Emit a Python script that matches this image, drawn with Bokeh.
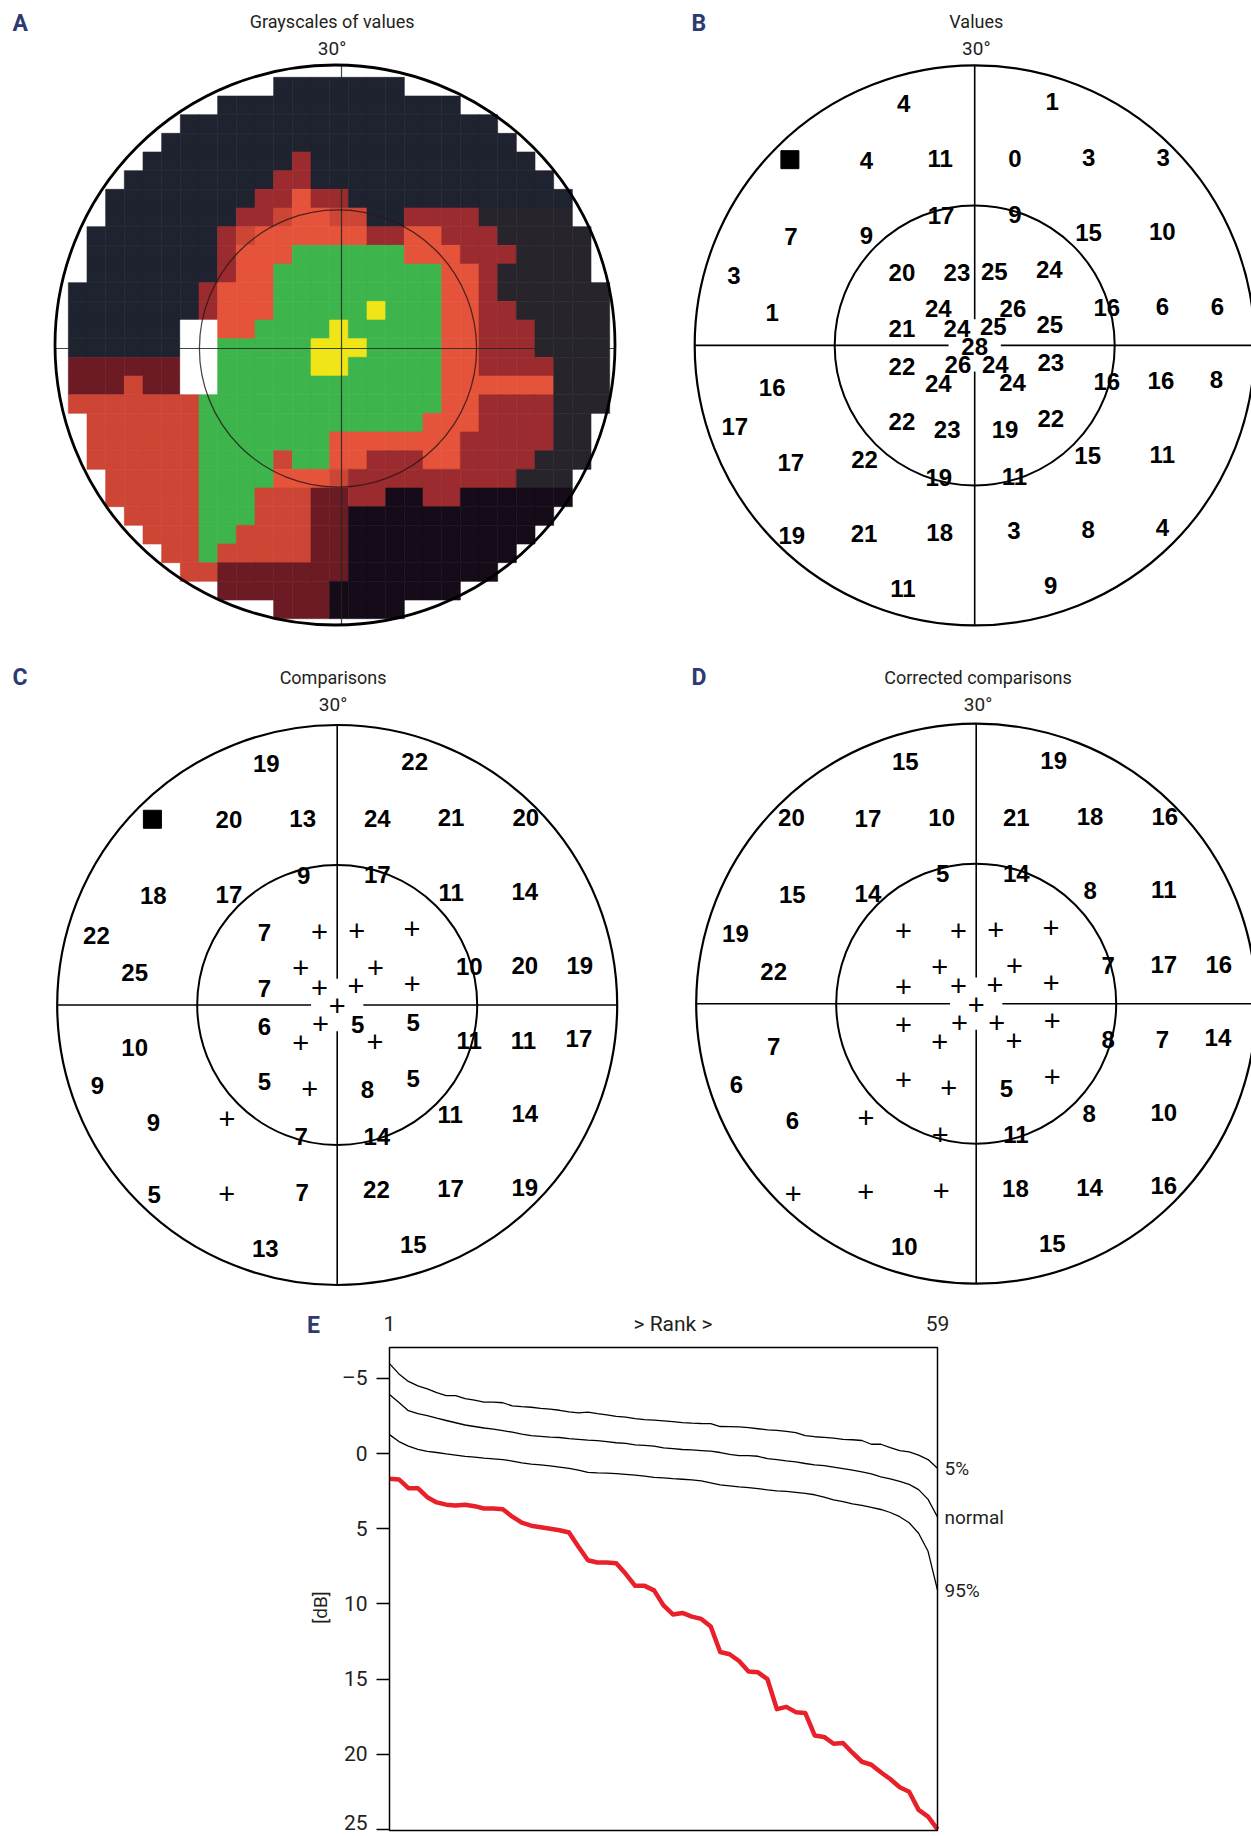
import math
from bokeh.plotting import figure
from bokeh.layouts import column, row
from bokeh.models import ColumnDataSource, Label, Range1d, FixedTicker, BoxAnnotation
from bokeh.core.properties import value
from bokeh.embed import file_html
from bokeh.resources import INLINE

# ---------------------------------------------------------------- data
# test locations of the 30-degree program (degrees), shared by B, C, D
loc_x = [-7.6, 8.3, -19.8, -11.6, -3.7, 4.3, 12.2, 20.2, -3.6, 4.3,
         -19.7, -11.6, 12.2, 20.1, -25.8, -7.8, -1.9, 2.1, 8.0, -21.7,
         -3.9, 4.1, 14.15, 20.1, 26.0, -7.8, -1.9, 2.0, 8.05, 0.0,
         -7.8, -1.8, 2.2, 8.15, -21.7, -3.9, 4.05, 14.15, 19.95, 25.9,
         -25.7, -7.8, -2.95, 3.25, 8.15, -19.7, -11.8, 12.1, 20.1, -3.85,
         4.25, -19.6, -11.85, -3.75, 4.2, 12.15, 20.1, -7.7, 8.15]
loc_y = [25.9, 26.1, 19.9, 19.85, 20.0, 20.0, 20.1, 20.1, 13.9, 14.0,
         11.7, 11.8, 12.1, 12.2, 7.5, 7.8, 7.8, 7.9, 8.15, 3.5,
         3.95, 4.0, 4.1, 4.2, 4.2, 1.8, 1.85, 2.05, 2.25, -0.1,
         -2.3, -2.05, -2.05, -1.85, -4.55, -4.1, -3.95, -3.85, -3.8, -3.6,
         -8.65, -8.15, -9.0, -9.05, -7.85, -12.55, -12.25, -11.75, -11.65, -14.1,
         -14.05, -20.35, -20.2, -20.05, -19.8, -19.7, -19.5, -26.05, -25.7]

values_b = ["4", "1", "■", "4", "11", "0", "3", "3", "17", "9",
            "7", "9", "15", "10", "3", "20", "23", "25", "24", "1",
            "24", "26", "16", "6", "6", "21", "24", "25", "25", "28",
            "22", "26", "24", "23", "16", "24", "24", "16", "16", "8",
            "17", "22", "23", "19", "22", "17", "22", "15", "11", "19",
            "11", "19", "21", "18", "3", "8", "4", "11", "9"]
comparisons_c = ["19", "22", "■", "20", "13", "24", "21", "20", "9", "17",
                 "18", "17", "11", "14", "22", "7", "+", "+", "+", "25",
                 "+", "+", "10", "20", "19", "7", "+", "+", "+", "+",
                 "6", "+", "5", "5", "10", "+", "+", "11", "11", "17",
                 "9", "5", "+", "8", "5", "9", "+", "11", "14", "7",
                 "14", "5", "+", "7", "22", "17", "19", "13", "15"]
corrected_d = ["15", "19", "20", "17", "10", "21", "18", "16", "5", "14",
               "15", "14", "8", "11", "19", "+", "+", "+", "+", "22",
               "+", "+", "7", "17", "16", "+", "+", "+", "+", "+",
               "+", "+", "+", "+", "7", "+", "+", "8", "7", "14",
               "6", "+", "+", "5", "+", "6", "+", "8", "10", "+",
               "11", "+", "+", "+", "18", "14", "16", "10", "15"]

# panel A: colour-class map, 2-degree cells, rows y = 28 .. -28, columns x = -28 .. 28
grey_rows = [
    "...........KKKKKKK...........",
    "........KKKKKKKKKKKKK........",
    "......KKKKKKKKKKKKKKKKK......",
    ".....KKKKKKKKKKKKKKKKKKK.....",
    "....KKKKKKKKDKKKKKKKKKKKK....",
    "...KKKKKKKKDDKKKKKKKKKKKKK...",
    "..KKKKKKKKDDODDKKKKKKKKKKKK..",
    "..KKKKKKKDDROORRKKDDDDQQQQQ..",
    ".KKKKKKKDROOOOOODDOODDDQQQQQ.",
    ".KKKKKKKDOOOGGGGGGOOODDDQQQQ.",
    ".KKKKKKKDOOGGGGGGGGGOODQQQQQ.",
    "KKKKKKKDOOOGGGGGGGGGOODQQQQQQ",
    "KKKKKKKDOOOGGGGGYGGGOODDQQQQQ",
    "KKKKKKWWOOGGGGYGGGGGOODDDQQQQ",
    "KKKKKKWWGGGGGYYYGGGGOODDDQQQQ",
    "MMMMMMWWGGGGGYYGGGGGOODDDDQQQ",
    "MMMRMMWWGGGGGGGGGGGGOOOOOOQQQ",
    "RRRRRRRGGGGGGGGGGGGGOODDDDQQQ",
    ".RRRRRRGGGGGGGGGGGGOOODDDDQQ.",
    ".RRRRRRGGGGGGGOOOOOOODDDDDQQ.",
    ".RRRRRRGGGGRGGOODDDOODDDDQQQ.",
    "..RRRRRGGGGOOORDDDDDDDDDQQQ..",
    "..RRRRRGGGRRRMMDDPPDDPPPPPP..",
    "...RRRRGGGRRRMMPPPPPPPPPPP...",
    "....RRRGGRRRRMMPPPPPPPPPP....",
    ".....RRGRRRRRMMPPPPPPPPP.....",
    "......RRMMMMMMMPPPPPPPP......",
    "........MMMMMMPPPPPPP........",
    "...........MMMPPPP...........",
]
grey_colors = {"K": "#1f2330", "Q": "#27252b", "P": "#160b18", "M": "#6c1b24",
               "D": "#9b2b2e", "R": "#cd4535", "O": "#e6533b", "G": "#3db44c",
               "Y": "#f0e516", "W": "#ffffff"}

# panel E: cumulative defect curve, rank 1..59, dB
rank = list(range(1, 60))
patient = [1.67, 1.72, 2.3, 2.3, 2.9, 3.25, 3.4, 3.45, 3.4, 3.5,
           3.65, 3.65, 3.7, 4.2, 4.6, 4.8, 4.9, 5.0, 5.1, 5.25,
           6.2, 7.1, 7.25, 7.25, 7.3, 8.0, 8.8, 8.8, 9.1, 10.1,
           10.7, 10.6, 10.85, 11.0, 11.5, 13.2, 13.35, 13.8, 14.5, 14.55,
           15.0, 17.0, 16.85, 17.2, 17.25, 18.75, 18.85, 19.3, 19.25, 19.9,
           20.5, 20.7, 21.2, 21.65, 22.2, 22.5, 23.7, 24.15, 25.0]
pct5 = [-5.98, -5.3, -4.8, -4.5, -4.3, -4.05, -3.86, -3.86, -3.65, -3.55,
        -3.42, -3.42, -3.38, -3.17, -3.12, -3.08, -3.0, -2.95, -2.88, -2.78,
        -2.7, -2.75, -2.65, -2.58, -2.48, -2.42, -2.32, -2.26, -2.22, -2.17,
        -2.12, -2.06, -2.02, -2.0, -1.99, -1.8, -1.79, -1.77, -1.72, -1.65,
        -1.58, -1.54, -1.48, -1.4, -1.2, -1.12, -1.08, -1.03, -0.95, -0.92,
        -0.87, -0.62, -0.62, -0.4, -0.2, -0.11, 0.1, 0.4, 0.98]
normal = [-3.93, -3.4, -2.85, -2.65, -2.52, -2.35, -2.2, -2.05, -1.9, -1.8,
          -1.7, -1.62, -1.52, -1.42, -1.3, -1.2, -1.15, -1.1, -1.07, -1.0,
          -0.95, -0.9, -0.86, -0.8, -0.72, -0.68, -0.58, -0.55, -0.5, -0.38,
          -0.33, -0.27, -0.24, -0.2, -0.16, -0.07, 0.05, 0.14, 0.14, 0.18,
          0.34, 0.4, 0.48, 0.55, 0.66, 0.75, 0.8, 0.9, 1.0, 1.1,
          1.22, 1.35, 1.55, 1.68, 1.85, 2.05, 2.4, 3.05, 4.22]
pct95 = [-1.26, -0.8, -0.5, -0.28, -0.15, -0.07, 0.02, 0.1, 0.18, 0.24,
         0.3, 0.35, 0.4, 0.5, 0.62, 0.7, 0.75, 0.82, 0.9, 0.98,
         1.1, 1.25, 1.28, 1.3, 1.33, 1.38, 1.44, 1.5, 1.58, 1.62,
         1.67, 1.71, 1.75, 1.82, 1.95, 2.08, 2.15, 2.22, 2.26, 2.33,
         2.42, 2.48, 2.52, 2.58, 2.65, 2.74, 2.9, 3.08, 3.2, 3.35,
         3.45, 3.58, 3.72, 3.92, 4.2, 4.6, 5.3, 6.5, 9.08]
curve_names = ["5%", "normal", "95%"]
y_ticks = [-5, 0, 5, 10, 15, 20, 25]
rank_labels = {1: "1", 31: "> Rank >", 59: "59"}

# ---------------------------------------------------------------- styling
CONDENSED = "Roboto"
NUMFONT = "Liberation Sans"
NAVY = "#2d3a72"
INK = "#231f20"
S = 280.0 / 30.0          # pixels per degree


def circle_fig(left, top, w, h, cx, cy):
    fig = figure(width=w, height=h,
                 x_range=Range1d((left - cx) / S, (left + w - cx) / S),
                 y_range=Range1d((cy - top - h) / S, (cy - top) / S),
                 output_backend="svg", toolbar_location=None,
                 x_axis_location=None, y_axis_location=None, min_border=0)
    fig.grid.visible = False
    fig.outline_line_color = None
    fig.background_fill_color = "white"
    fig.border_fill_color = "white"

    def to_deg(px, py):
        return (px - cx) / S, (cy - py) / S
    return fig, to_deg


def heading(fig, to_deg, letter, letter_px, letter_py, title, tx, ty, sub_py):
    lx, ly = to_deg(letter_px, letter_py)
    fig.add_layout(Label(x=lx, y=ly, text=letter, text_font=CONDENSED, text_font_style="bold",
                         text_font_size="23px", text_color=NAVY, text_align="left",
                         text_baseline="alphabetic"))
    x, y = to_deg(tx, ty)
    fig.add_layout(Label(x=x, y=y, text=title, text_font=CONDENSED, text_font_size="18px",
                         text_color=INK, text_align="center", text_baseline="alphabetic"))
    x, y = to_deg(tx, sub_py)
    fig.add_layout(Label(x=x, y=y, text="30°", text_font=CONDENSED, text_font_size="19px",
                         text_color=INK, text_align="center", text_baseline="alphabetic"))


def field_frame(fig, outer_lw=2.2, inner_lw=2.0, gap=2.8):
    fig.circle(x=[0], y=[0], radius=30, fill_color=None, line_color="black", line_width=outer_lw)
    fig.circle(x=[0], y=[0], radius=15, fill_color=None, line_color="black", line_width=inner_lw)
    fig.segment(x0=[-30, gap, 0, 0], y0=[0, 0, -30, gap],
                x1=[-gap, 30, 0, 0], y1=[0, 0, -gap, 30],
                line_color="black", line_width=1.6)


def field_values(fig, labels):
    num = dict(x=[], y=[], t=[])
    plus = dict(x=[], y=[], t=[])
    sq = dict(x=[], y=[])
    for x, y, t in zip(loc_x, loc_y, labels):
        if t == "■":
            sq["x"].append(x); sq["y"].append(y)
        elif t == "+":
            plus["x"].append(x); plus["y"].append(y); plus["t"].append(t)
        else:
            num["x"].append(x); num["y"].append(y); num["t"].append(t)
    fig.text(x="x", y="y", text="t", source=ColumnDataSource(num), text_align="center",
             text_baseline="middle", text_font=value(NUMFONT), text_font_style="bold",
             text_font_size="24px", text_color="black")
    if plus["x"]:
        fig.text(x="x", y="y", text="t", source=ColumnDataSource(plus), text_align="center",
                 text_baseline="middle", text_font=value(NUMFONT), text_font_style="normal",
                 text_font_size="29px", text_color="black")
    if sq["x"]:
        fig.scatter(x="x", y="y", source=ColumnDataSource(sq), marker="square", size=18,
                    fill_color="black", line_color="black")


# ---------------------------------------------------------------- panel A
pA, degA = circle_fig(0, 0, 655, 665, 334.5, 344.5)
mx, my = degA(338.5, 347.5)
cells = dict(x=[], y=[], c=[])
for j, line in enumerate(grey_rows):
    for i, ch in enumerate(line):
        if ch in grey_colors:
            cells["x"].append(-28 + 2 * i + mx)
            cells["y"].append(28 - 2 * j + my)
            cells["c"].append(grey_colors[ch])
pA.rect(x="x", y="y", width=2, height=2, source=ColumnDataSource(cells),
        fill_color="c", line_color="c", line_width=0.6)
hx, hy = degA(341, 348)
pA.segment(x0=[-30, hx], y0=[hy, -30], x1=[30, hx], y1=[hy, 30],
           line_color="#1c2a1f", line_width=1.2, line_alpha=0.85)
ix, iy = degA(337.5, 348)
pA.circle(x=[ix], y=[iy], radius=14.85, fill_color=None, line_color="#2a1616",
          line_width=1.3, line_alpha=0.8)
pA.circle(x=[0], y=[0], radius=30, fill_color=None, line_color="black", line_width=2.8)
heading(pA, degA, "A", 12, 23, "Grayscales of values", 331.6, 21, 48)

# ---------------------------------------------------------------- panel B
pB, degB = circle_fig(655, 0, 596, 665, 974.2, 344.9)
field_frame(pB)
field_values(pB, values_b)
heading(pB, degB, "B", 691, 23, "Values", 975.8, 21, 48)

# ---------------------------------------------------------------- panel C
pC, degC = circle_fig(0, 665, 655, 645, 336.7, 1004.5)
field_frame(pC)
field_values(pC, comparisons_c)
heading(pC, degC, "C", 12, 677, "Comparisons", 332.6, 677, 704)

# ---------------------------------------------------------------- panel D
pD, degD = circle_fig(655, 665, 596, 645, 975.7, 1003.2)
field_frame(pD)
field_values(pD, corrected_d)
heading(pD, degD, "D", 691, 677, "Corrected comparisons", 977.5, 677, 704)

# ---------------------------------------------------------------- panel E
E_TOP, E_H, E_W = 1310, 524, 1251
PXR = 548.0 / 58.0        # pixels per rank
PXD = 451.0 / 30.0        # pixels per dB


def r_at(px):
    return 1 + (px - 389.0) / PXR


def d_at(py):
    return -5 + (py - 1377.9) / PXD


pE = figure(width=E_W, height=E_H,
            x_range=Range1d(r_at(0), r_at(E_W)),
            y_range=Range1d(d_at(E_TOP + E_H), d_at(E_TOP)),
            output_backend="svg", toolbar_location=None, x_axis_location="above",
            min_border=0)
pE.grid.visible = False
pE.outline_line_color = None
pE.background_fill_color = "white"
pE.border_fill_color = "white"
pE.add_layout(BoxAnnotation(left=rank[0], right=rank[-1], top=d_at(1347), bottom=d_at(1830),
                            fill_color=None, fill_alpha=0, line_color="black", line_width=1.5,
                            line_alpha=1.0))

xa = pE.xaxis[0]
xa.fixed_location = d_at(1347)
xa.ticker = FixedTicker(ticks=list(rank_labels.keys()))
xa.major_label_overrides = rank_labels
xa.major_tick_out = 0
xa.major_tick_in = 0
xa.minor_tick_out = 0
xa.minor_tick_in = 0
xa.axis_line_color = None
xa.major_label_standoff = 12
xa.major_label_text_font = CONDENSED
xa.major_label_text_font_size = "21px"
xa.major_label_text_color = INK

ya = pE.yaxis[0]
ya.fixed_location = rank[0]
ya.ticker = FixedTicker(ticks=y_ticks)
ya.major_label_overrides = {-5: "–5"}
ya.major_tick_out = 13
ya.major_tick_in = 0
ya.minor_tick_out = 0
ya.minor_tick_in = 0
ya.major_tick_line_width = 1.5
ya.axis_line_color = None
ya.major_label_standoff = 9
ya.major_label_text_font = CONDENSED
ya.major_label_text_font_size = "21px"
ya.major_label_text_color = INK

pE.add_layout(Label(x=r_at(320), y=d_at(1607), text="[dB]", angle=math.pi / 2,
                    text_font=CONDENSED, text_font_size="19px", text_color=INK,
                    text_align="center", text_baseline="middle"))

for series, name in zip([pct5, normal, pct95], curve_names):
    pE.line(rank, series, line_color="black", line_width=1.3)
    pE.add_layout(Label(x=rank[-1], y=series[-1], x_offset=7, text=name, text_font=CONDENSED,
                        text_font_size="19px", text_color=INK, text_align="left",
                        text_baseline="middle"))
pE.line(rank, patient, line_color="#e8202a", line_width=4.5, line_join="round")
pE.add_layout(Label(x=r_at(306.5), y=d_at(1325), text="E", text_font=CONDENSED,
                    text_font_style="bold", text_font_size="23px", text_color=NAVY,
                    text_align="left", text_baseline="alphabetic"))

layout = column(row(pA, pB), row(pC, pD), pE)
open("out.html", "w").write(file_html(layout, INLINE))
